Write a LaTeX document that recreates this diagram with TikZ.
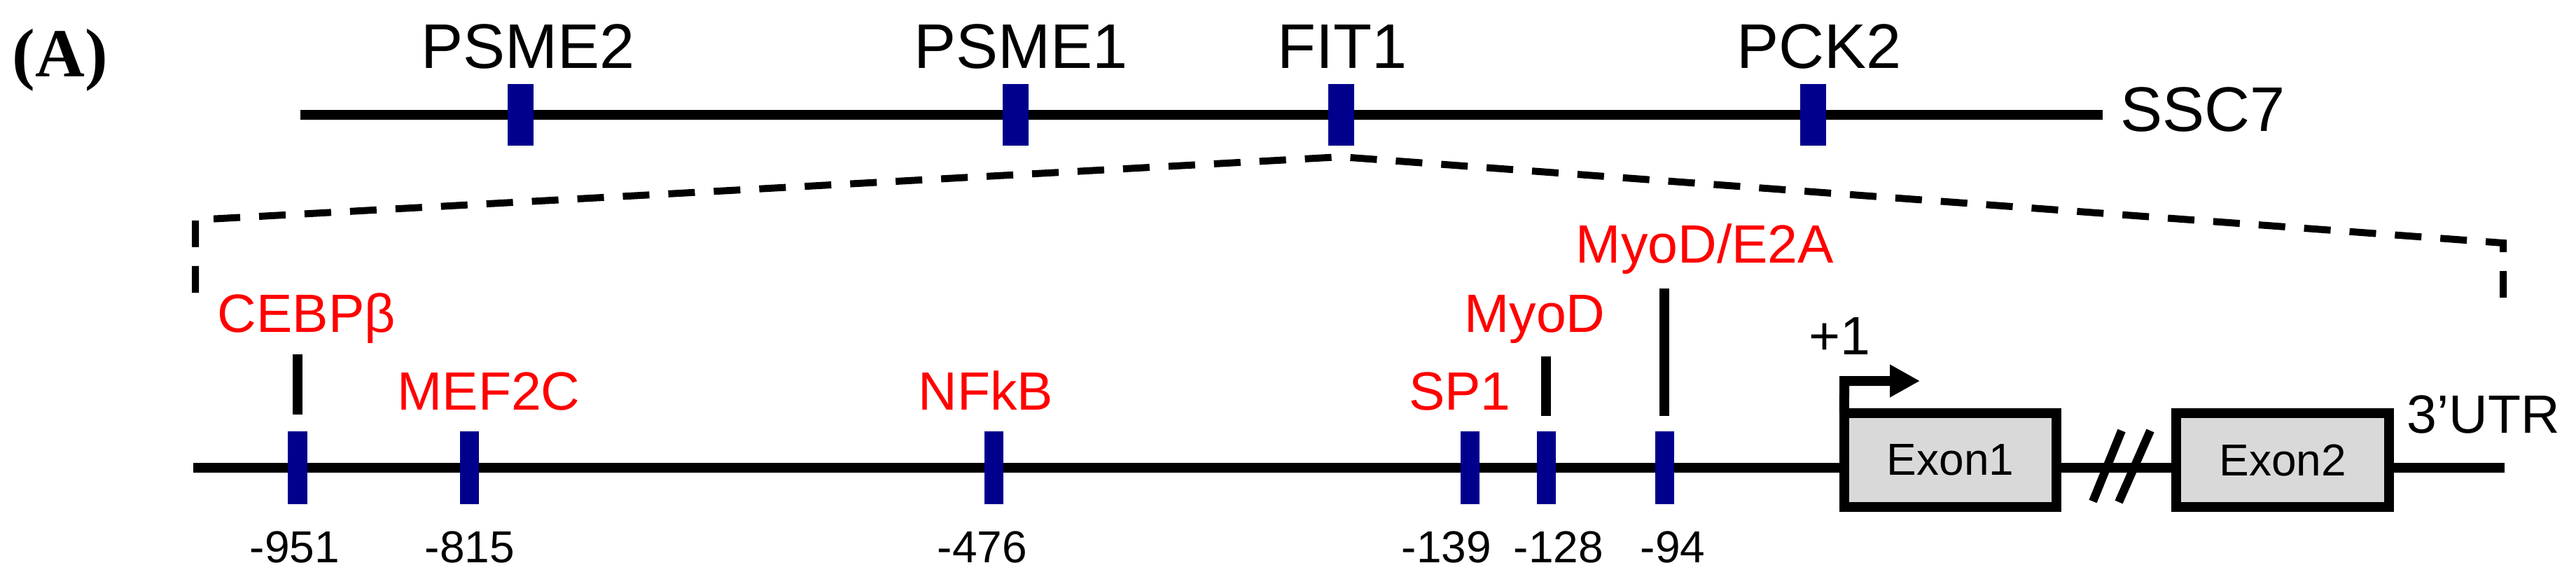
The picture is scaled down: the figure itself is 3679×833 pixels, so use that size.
\documentclass[tikz,border=0pt]{standalone}
\usepackage{fontspec}
\setmainfont{Liberation Sans}
\newfontfamily\serifbf{Liberation Serif}
\usetikzlibrary{arrows.meta}
\definecolor{siteblue}{RGB}{0,0,140}
\definecolor{exongray}{RGB}{217,217,217}
\definecolor{tfred}{RGB}{255,0,0}
\begin{document}
\begin{tikzpicture}[x=0.01cm,y=-0.01cm,
  chrline/.style={line width=0.14cm},
  topsite/.style={fill=siteblue, draw=none, minimum width=0.37cm, minimum height=0.87cm, inner sep=0},
  site/.style={fill=siteblue, draw=none, minimum width=0.27cm, minimum height=1.03cm, inner sep=0},
  genelabel/.style={anchor=base, inner sep=0, font=\fontsize{25.6}{30}\selectfont},
  tflabel/.style={anchor=base, inner sep=0, text=tfred, font=\fontsize{21.9}{26}\selectfont},
  poslabel/.style={anchor=base, inner sep=0, font=\fontsize{18.2}{22}\selectfont},
  blacklabel/.style={anchor=base, inner sep=0, font=\fontsize{21.9}{26}\selectfont},
  tickline/.style={line width=0.14cm},
  exonbox/.style={draw, fill=exongray, line width=0.14cm, outer sep=0, minimum width=3.03cm, minimum height=1.34cm, inner sep=0, font=\fontsize{18.2}{22}\selectfont},
  zoomline/.style={line width=0.10cm, dash pattern=on 0.38cm off 0.27cm},
  breakmark/.style={line width=0.12cm},
]
\useasboundingbox (0,0) rectangle (3679,833);

% panel label
\node[anchor=base west, inner sep=0, font=\serifbf\bfseries\fontsize{27.9}{32}\selectfont] (panel) at (17,109) {(A)};

% chromosome SSC7
\coordinate (tl) at (429,164);
\coordinate (tr) at (3003,164);
\draw[chrline] (tl) -- (tr);
\node[anchor=base west, inner sep=0, font=\fontsize{25.6}{30}\selectfont] (ssc) at (3028,187) {SSC7};

\node[topsite] (psme2) at (743,164) {};
\node[topsite] (psme1) at (1450,164) {};
\node[topsite] (fit1) at (1915,164) {};
\node[topsite] (pck2) at (2589,164) {};
\node[genelabel] (lpsme2) at (754,97) {PSME2};
\node[genelabel] (lpsme1) at (1458,97) {PSME1};
\node[genelabel] (lfit1) at (1917,97) {FIT1};
\node[genelabel] (lpck2) at (2598,97) {PCK2};

% zoom lines
\coordinate (zl0) at (279,418);
\coordinate (zl1) at (279,314);
\coordinate (zpk) at (1915,224);
\coordinate (zr1) at (3575,347);
\coordinate (zr0) at (3575,451);
\draw[zoomline] (zl0) -- (zl1) -- (zpk) -- (zr1) -- (zr0);

% promoter line
\coordinate (bl) at (276,668);
\coordinate (br) at (3577,668);
\draw[chrline] (bl) -- (br);

\node[site] (s951) at (425,668) {};
\node[site] (s815) at (670,668) {};
\node[site] (s476) at (1419,668) {};
\node[site] (s139) at (2099,668) {};
\node[site] (s128) at (2208,668) {};
\node[site] (s94) at (2377,668) {};

\node[poslabel] (p951) at (421,803) {-951};
\node[poslabel] (p815) at (671,803) {-815};
\node[poslabel] (p476) at (1403,803) {-476};
\node[poslabel] (p139) at (2066,803) {-139};
\node[poslabel] (p128) at (2226,803) {-128};
\node[poslabel] (p94) at (2389,803) {-94};

% factor ticks
\coordinate (t951a) at (425,506); \coordinate (t951b) at (425,592);
\coordinate (t128a) at (2208,509); \coordinate (t128b) at (2208,594);
\coordinate (t94a) at (2377,412); \coordinate (t94b) at (2377,594);
\draw[tickline] (t951a) -- (t951b);
\draw[tickline] (t128a) -- (t128b);
\draw[tickline] (t94a) -- (t94b);

\node[tflabel] (cebp) at (438,474) {CEBPβ};
\node[tflabel] (mef) at (698,585) {MEF2C};
\node[tflabel] (nfkb) at (1408,585) {NFkB};
\node[tflabel] (sp1) at (2085,585) {SP1};
\node[tflabel] (myod) at (2192,474) {MyoD};
\node[tflabel] (myode) at (2435,375) {MyoD/E2A};

% exons
\node[exonbox] (ex1) at (2785.5,657) {Exon1};
\node[exonbox] (ex2) at (3260,657) {Exon2};

% break marks
\coordinate (b1a) at (2989,716); \coordinate (b1b) at (3030,615);
\coordinate (b2a) at (3026,717); \coordinate (b2b) at (3071,615);
\draw[breakmark] (b1a) -- (b1b);
\draw[breakmark] (b2a) -- (b2b);

% TSS arrow
\coordinate (tss) at (2634,544);
\coordinate (tssend) at (2742,544);
\draw[line width=0.14cm, line join=miter, -{Triangle[length=0.43cm,width=0.44cm]}] (ex1.north west) -- (tss) -- (tssend);
\node[blacklabel] (plus1) at (2627,506) {+1};
\node[blacklabel] (utr) at (3547,618) {3'UTR};
\end{tikzpicture}
\end{document}
